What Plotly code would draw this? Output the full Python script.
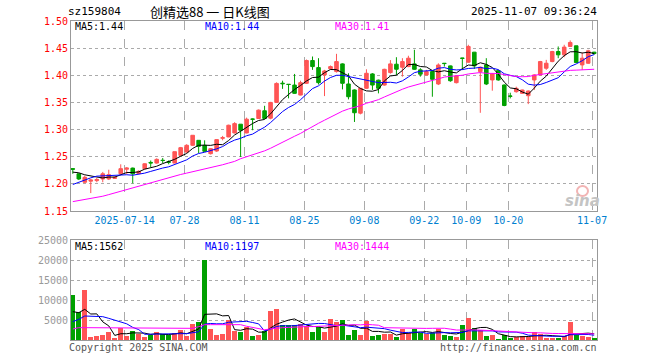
import plotly.graph_objects as go

# ---------------- data ----------------
dates = [
    "2025-07-01", "2025-07-02", "2025-07-03", "2025-07-04", "2025-07-07", "2025-07-08", "2025-07-09", "2025-07-10",
    "2025-07-11", "2025-07-14", "2025-07-15", "2025-07-16", "2025-07-17", "2025-07-18", "2025-07-21", "2025-07-22",
    "2025-07-23", "2025-07-24", "2025-07-25", "2025-07-28", "2025-07-29", "2025-07-30", "2025-07-31", "2025-08-01",
    "2025-08-04", "2025-08-05", "2025-08-06", "2025-08-07", "2025-08-08", "2025-08-11", "2025-08-12", "2025-08-13",
    "2025-08-14", "2025-08-15", "2025-08-18", "2025-08-19", "2025-08-20", "2025-08-21", "2025-08-22", "2025-08-25",
    "2025-08-26", "2025-08-27", "2025-08-28", "2025-08-29", "2025-09-01", "2025-09-02", "2025-09-03", "2025-09-04",
    "2025-09-05", "2025-09-08", "2025-09-09", "2025-09-10", "2025-09-11", "2025-09-12", "2025-09-15", "2025-09-16",
    "2025-09-17", "2025-09-18", "2025-09-19", "2025-09-22", "2025-09-23", "2025-09-24", "2025-09-25", "2025-09-26",
    "2025-09-29", "2025-09-30", "2025-10-09", "2025-10-10", "2025-10-13", "2025-10-14", "2025-10-15", "2025-10-16",
    "2025-10-17", "2025-10-20", "2025-10-21", "2025-10-22", "2025-10-23", "2025-10-24", "2025-10-27", "2025-10-28",
    "2025-10-29", "2025-10-30", "2025-10-31", "2025-11-03", "2025-11-04", "2025-11-05", "2025-11-06", "2025-11-07",
]

opens = [
    1.228, 1.2185, 1.203, 1.205, 1.206, 1.209, 1.209, 1.210, 1.2185, 1.227,
    1.229, 1.219, 1.228, 1.2395, 1.2383, 1.2435, 1.2405, 1.2383, 1.2525, 1.2586,
    1.271, 1.2802, 1.271, 1.2556, 1.2605, 1.284, 1.2864, 1.2938, 1.3099, 1.2938,
    1.3195, 1.3204, 1.3346, 1.321, 1.350, 1.3855, 1.3835, 1.382, 1.3636, 1.3852,
    1.4272, 1.4142, 1.4006, 1.412, 1.4068, 1.421, 1.384, 1.373, 1.3302, 1.376,
    1.4025, 1.391, 1.382, 1.405, 1.4204, 1.4148, 1.416, 1.421, 1.410, 1.4006,
    1.4068, 1.384, 1.4222, 1.4173, 1.3864, 1.4318, 1.4241, 1.4426, 1.4068, 1.4191,
    1.3914, 1.4086, 1.3821, 1.3618, 1.3698, 1.3667, 1.3624, 1.3914, 1.4006, 1.413,
    1.4253, 1.4438, 1.4377, 1.4531, 1.4543, 1.4191, 1.4222, 1.4426,
]
highs = [
    1.229, 1.219, 1.215, 1.209, 1.211, 1.222, 1.226, 1.214, 1.236, 1.231,
    1.230, 1.225, 1.238, 1.243, 1.247, 1.2475, 1.2432, 1.2593, 1.268, 1.273,
    1.2895, 1.2802, 1.2802, 1.266, 1.282, 1.2883, 1.309, 1.3136, 1.310, 1.322,
    1.3204, 1.337, 1.3438, 1.351, 1.387, 1.390, 1.3835, 1.4025, 1.390, 1.429,
    1.4346, 1.4315, 1.410, 1.418, 1.4395, 1.422, 1.4037, 1.374, 1.377, 1.411,
    1.404, 1.392, 1.412, 1.428, 1.4333, 1.4315, 1.436, 1.447, 1.413, 1.410,
    1.408, 1.422, 1.4225, 1.418, 1.400, 1.432, 1.4562, 1.443, 1.416, 1.4315,
    1.404, 1.410, 1.383, 1.3679, 1.379, 1.3735, 1.372, 1.402, 1.4265, 1.4284,
    1.445, 1.4531, 1.4562, 1.4642, 1.4545, 1.442, 1.447, 1.4432,
]
lows = [
    1.2185, 1.207, 1.201, 1.183, 1.203, 1.203, 1.207, 1.209, 1.218, 1.218,
    1.201, 1.218, 1.227, 1.231, 1.237, 1.2383, 1.236, 1.2383, 1.251, 1.257,
    1.270, 1.2568, 1.259, 1.254, 1.259, 1.2802, 1.286, 1.293, 1.2494, 1.293,
    1.2988, 1.320, 1.3204, 1.319, 1.349, 1.375, 1.3575, 1.366, 1.363, 1.384,
    1.410, 1.383, 1.3617, 1.410, 1.405, 1.374, 1.3556, 1.314, 1.328, 1.375,
    1.373, 1.3667, 1.381, 1.403, 1.4006, 1.3975, 1.415, 1.4099, 1.3975, 1.400,
    1.3605, 1.382, 1.416, 1.388, 1.385, 1.410, 1.423, 1.4117, 1.3309, 1.382,
    1.3716, 1.390, 1.343, 1.3574, 1.368, 1.366, 1.3469, 1.3728, 1.400, 1.410,
    1.424, 1.4315, 1.4333, 1.4525, 1.423, 1.4099, 1.421, 1.438,
]
closes = [
    1.227, 1.209, 1.212, 1.207, 1.208, 1.2185, 1.217, 1.212, 1.228, 1.229,
    1.2185, 1.223, 1.237, 1.2385, 1.2451, 1.243, 1.240, 1.2593, 1.2667, 1.271,
    1.2895, 1.2691, 1.2599, 1.2648, 1.2815, 1.285, 1.308, 1.311, 1.2988, 1.3191,
    1.3190, 1.3358, 1.3204, 1.350, 1.385, 1.3845, 1.383, 1.3667, 1.3864, 1.4272,
    1.416, 1.3864, 1.408, 1.416, 1.4253, 1.3852, 1.3605, 1.331, 1.376, 1.4037,
    1.382, 1.376, 1.411, 1.421, 1.4111, 1.4253, 1.4315, 1.411, 1.402, 1.4068,
    1.3926, 1.419, 1.4216, 1.390, 1.3988, 1.4312, 1.4531, 1.4173, 1.4148, 1.384,
    1.4025, 1.3914, 1.3444, 1.3614, 1.376, 1.3729, 1.371, 1.4006, 1.4253, 1.4222,
    1.4438, 1.4377, 1.4519, 1.4605, 1.4235, 1.4315, 1.4451, 1.440,
]
volumes = [
    11250, 7083, 12500, 833, 1000, 1250, 2083, 583, 2917, 1000,
    2333, 1500, 833, 1250, 2083, 1417, 1250, 1667, 2500, 1000,
    4000, 4583, 20000, 2833, 1250, 1500, 5000, 2333, 2083, 3167,
    1000, 1250, 2333, 7333, 7750, 3750, 3750, 3750, 3900, 3500,
    2083, 3333, 2083, 5250, 4583, 5000, 1250, 2500, 1250, 4750,
    1000, 1250, 1500, 1500, 833, 2750, 1667, 2750, 1833, 1500,
    1667, 2750, 1250, 1000, 833, 3750, 5583, 2917, 2500, 1000,
    1250, 167, 1250, 583, 667, 1000, 833, 2083, 1400, 600,
    550, 600, 1010, 4400, 1300, 1100, 750, 260,
]

# moving-average values for the first days (window not yet full)
price_ma5_head = [1.2216, 1.2204, 1.2167, 1.2142]
price_ma10_head = [1.1988, 1.2031, 1.2074, 1.2111, 1.2142, 1.2148, 1.2154, 1.2154, 1.2160]
price_ma30_head = [1.1673, 1.1691, 1.1704, 1.1728, 1.1753, 1.1772, 1.1802, 1.1833, 1.1864, 1.1901,
                   1.1926, 1.1957, 1.1988, 1.2012, 1.2043, 1.2074, 1.2111, 1.2142, 1.2173, 1.2198,
                   1.2222, 1.2247, 1.2272, 1.2296, 1.2321, 1.2352, 1.2383, 1.2414, 1.2463]
vol_ma5_head = [7083, 6833, 7667, 6500]
vol_ma10_head = [4583, 5167, 6000, 6000, 6000, 5833, 5417, 5000, 4583]
vol_ma30_head = [2750] + [3083] * 9 + [2917] * 11 + [3333] + [3833] * 7

tick_dates = ["2025-07-14", "2025-07-28", "2025-08-11", "2025-08-25", "2025-09-08",
              "2025-09-22", "2025-10-09", "2025-10-20", "2025-11-07"]
tick_labels = ["2025-07-14", "07-28", "08-11", "08-25", "09-08", "09-22", "10-09", "10-20", "11-07"]

price_ticks = [1.15, 1.20, 1.25, 1.30, 1.35, 1.40, 1.45, 1.50]
vol_ticks = [5000, 10000, 15000, 20000, 25000]

header_code = "sz159804"
header_title = "创精选88 一 日K线图"
header_time = "2025-11-07 09:36:24"
price_ma_labels = ["MA5:1.44", "MA10:1.44", "MA30:1.41"]
vol_ma_labels = ["MA5:1562", "MA10:1197", "MA30:1444"]


def moving_average(vals, n, head):
    out = list(head)
    for i in range(len(head), len(vals)):
        out.append(sum(vals[i - n + 1:i + 1]) / n)
    return out


ma5 = moving_average(closes, 5, price_ma5_head)
ma10 = moving_average(closes, 10, price_ma10_head)
ma30 = moving_average(closes, 30, price_ma30_head)
vma5 = moving_average(volumes, 5, vol_ma5_head)
vma10 = moving_average(volumes, 10, vol_ma10_head)
vma30 = moving_average(volumes, 30, vol_ma30_head)

# ---------------- styling ----------------
RED = "#ff5555"
GREEN = "#00a000"
GRID = "#aaaaaa"
FRAME = "#999999"
MONO = "DejaVu Sans Mono, Liberation Mono, monospace"
CJK = "Noto Sans CJK SC, DejaVu Sans Mono, sans-serif"

W, H = 660, 360
PL, PR, PT, PB = 71, 597, 21, 340
PW, PH = PR - PL, PB - PT
price_top, price_bot = 21, 211
vol_top, vol_bot = 240, 340

idx = list(range(len(dates)))
tick_pos = [dates.index(d) - 0.35 for d in tick_dates]
bar_colors = [RED if c >= o else GREEN for o, c in zip(opens, closes)]

fig = go.Figure()
fig.add_trace(go.Candlestick(
    x=idx, open=opens, high=highs, low=lows, close=closes,
    increasing=dict(line=dict(color=RED, width=1), fillcolor=RED),
    decreasing=dict(line=dict(color=GREEN, width=1), fillcolor=GREEN),
    whiskerwidth=0, hoverinfo="skip", xaxis="x", yaxis="y",
))
for vals, col in [(ma5, "#000000"), (ma10, "#0000ff"), (ma30, "#ff00ff")]:
    fig.add_trace(go.Scatter(x=idx, y=vals, mode="lines", line=dict(color=col, width=1),
                             hoverinfo="skip", xaxis="x", yaxis="y"))

fig.add_trace(go.Bar(x=idx, y=volumes, marker=dict(color=bar_colors, line=dict(width=0)),
                     width=0.82, hoverinfo="skip", xaxis="x2", yaxis="y2"))
for vals, col in [(vma5, "#000000"), (vma10, "#0000ff"), (vma30, "#ff00ff")]:
    fig.add_trace(go.Scatter(x=idx, y=vals, mode="lines", line=dict(color=col, width=1),
                             hoverinfo="skip", xaxis="x2", yaxis="y2"))


def fx(px):
    return (px - PL) / PW


def fy(py):
    return (PB - py) / PH


xcommon = dict(range=[-0.3, 87.47], tickvals=tick_pos, showgrid=True, gridcolor=GRID,
               griddash="dash", gridwidth=1, showline=True, mirror=True, linecolor=FRAME,
               linewidth=1, zeroline=False, ticks="", rangeslider=dict(visible=False))

fig.update_layout(
    width=W, height=H, margin=dict(l=PL, r=W - PR, t=PT, b=H - PB),
    paper_bgcolor="white", plot_bgcolor="white", showlegend=False,
    boxgap=0.15, bargap=0,
    xaxis=dict(**xcommon, anchor="y", ticktext=tick_labels,
               tickfont=dict(family=MONO, size=10, color="#0080d0")),
    xaxis2=dict(**xcommon, anchor="y2", matches="x", showticklabels=False),
    yaxis=dict(domain=[fy(price_bot), fy(price_top)], range=[1.15, 1.50], tickvals=price_ticks,
               ticktext=[f"{v:.2f}" for v in price_ticks], showgrid=True, gridcolor=GRID,
               griddash="dot", gridwidth=1, showline=True, mirror=True, linecolor=FRAME,
               zeroline=False, ticks="", tickfont=dict(family=MONO, size=10, color="#ff0000")),
    yaxis2=dict(domain=[fy(vol_bot), fy(vol_top)], range=[0, 25000], tickvals=vol_ticks,
                ticktext=[str(v) for v in vol_ticks], showgrid=True, gridcolor=GRID,
                griddash="dot", gridwidth=1, showline=True, mirror=True, linecolor=FRAME,
                zeroline=False, ticks="", tickfont=dict(family=MONO, size=10, color="#999999")),
)

anns = []


def ann(text, px, py, color, size=10, family=MONO, xanchor="left", **fontkw):
    anns.append(dict(text=text, x=fx(px), y=fy(py), xref="paper", yref="paper", showarrow=False,
                     xanchor=xanchor, yanchor="middle",
                     font=dict(family=family, size=size, color=color, **fontkw)))


ann(header_code, 66, 12, "#000000", size=11)
ann(header_title, 148, 12, "#000000", size=13, family=CJK)
ann(header_time, 599, 12, "#000000", size=11, xanchor="right")
for lbl, px, col in zip(price_ma_labels, [73, 203, 333], ["#000000", "#0000ff", "#ff00ff"]):
    ann(lbl, px, 27, col)
for lbl, px, col in zip(vol_ma_labels, [73, 203, 333], ["#000000", "#0000ff", "#ff00ff"]):
    ann(lbl, px, 246, col)
ann("Copyright 2025 SINA.COM", 67, 347, "#555555", size=10)
ann("http://finance.sina.com.cn", 599, 347, "#555555", size=10, xanchor="right")
ann("sina", 582, 201, "#c4c4c4", size=15, family="DejaVu Sans, sans-serif",
    xanchor="center", style="italic", weight="bold")
fig.update_layout(annotations=anns)
fig.add_shape(type="circle", xref="paper", yref="paper",
              x0=fx(577), x1=fx(588), y0=fy(196), y1=fy(186),
              line=dict(color="#f2b4b4", width=2))

fig.write_html("out.html", config={"displayModeBar": False},
               post_script="document.body.style.margin='0';document.body.style.padding='0';")
